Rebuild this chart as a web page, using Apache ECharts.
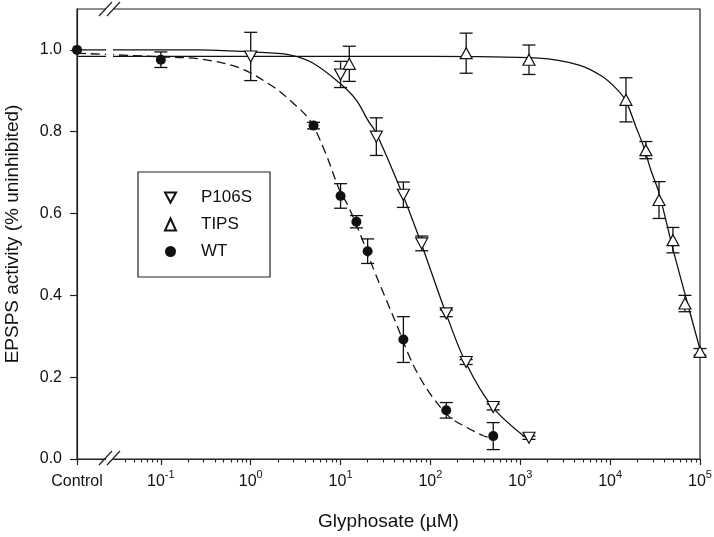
<!DOCTYPE html>
<html>
<head>
<meta charset="utf-8">
<script src="https://cdn.jsdelivr.net/npm/echarts@6/dist/echarts.min.js"></script>
<style>html,body{margin:0;padding:0;background:#fff}#c{width:714px;height:537px}</style>
</head>
<body>
<div id="c"></div>
<script>
// ---- axis data ----
const CONTROL_X = 0.01166; // where the "Control" tick sits on the log axis
const xTickLabels = ['Control', '10^-1', '10^0', '10^1', '10^2', '10^3', '10^4', '10^5'];
const yTickValues = [0, 0.2, 0.4, 0.6, 0.8, 1.0];
const xMinorTicks = [0.04, 0.05, 0.06, 0.07, 0.08, 0.09,
  0.2, 0.3, 0.4, 0.5, 0.6, 0.7, 0.8, 0.9,
  2, 3, 4, 5, 6, 7, 8, 9,
  20, 30, 40, 50, 60, 70, 80, 90,
  200, 300, 400, 500, 600, 700, 800, 900,
  2000, 3000, 4000, 5000, 6000, 7000, 8000, 9000,
  20000, 30000, 40000, 50000, 60000, 70000, 80000, 90000];

// ---- measured data ----
const wtConc = [CONTROL_X, 0.1, 5, 10, 15, 20, 50, 150, 500];
const wtMean = [1.0, 0.976, 0.815, 0.643, 0.580, 0.508, 0.292, 0.119, 0.056];
const wtErr  = [0.0, 0.019, 0.008, 0.030, 0.015, 0.030, 0.056, 0.019, 0.033];

const p106sConc = [1, 10, 25, 50, 80, 150, 250, 500, 1250];
const p106sMean = [0.984, 0.940, 0.788, 0.646, 0.527, 0.356, 0.237, 0.127, 0.052];
const p106sErr  = [0.059, 0.032, 0.046, 0.031, 0.018, 0.008, 0.006, 0.007, 0.004];

const tipsConc = [12.5, 250, 1250, 15000, 25000, 35000, 50000, 68000, 100000];
const tipsMean = [0.966, 0.992, 0.976, 0.878, 0.755, 0.633, 0.535, 0.380, 0.262];
const tipsErr  = [0.043, 0.049, 0.036, 0.054, 0.021, 0.045, 0.031, 0.020, 0.008];

// ---- fitted curves ----
const wtFitConc = [CONTROL_X, 0.1, 0.27, 0.75, 1.75, 2.7, 4.5, 6.6, 9.75, 12, 16.3, 23.9, 32.4, 43, 58.5, 75.5, 105, 163, 250, 378, 500];
const wtFitVal  = [0.992, 0.983, 0.978, 0.956, 0.911, 0.878, 0.829, 0.755, 0.657, 0.621, 0.553, 0.458, 0.388, 0.323, 0.250, 0.201, 0.152, 0.103, 0.078, 0.058, 0.049];

const p106sFitConc = [CONTROL_X, 0.27, 1, 2.7, 4.9, 9.75, 14.9, 20, 24.9, 49.2, 79, 149, 249, 492, 1259];
const p106sFitVal  = [1.0, 1.0, 0.995, 0.988, 0.968, 0.919, 0.878, 0.829, 0.797, 0.646, 0.527, 0.356, 0.234, 0.127, 0.046];

const tipsFitConc = [CONTROL_X, 1, 100, 1600, 4500, 8200, 12000, 14900, 19300, 23900, 28300, 35000, 49200, 69300, 100000];
const tipsFitVal  = [0.984, 0.984, 0.984, 0.980, 0.963, 0.935, 0.903, 0.876, 0.813, 0.760, 0.707, 0.650, 0.519, 0.397, 0.268];

// ---- build ----
const FONT = 'Arial, "Liberation Sans", sans-serif';
const zip = (a, b, c) => a.map((v, i) => c ? [v, b[i], c[i]] : [v, b[i]]);
const DOWN_TRI = 'path://M0,0L12,0L6,11Z';

function errRenderItem(params, api) {
  const x = api.value(0), y = api.value(1), e = api.value(2);
  if (!e) return null;
  const hi = api.coord([x, y + e]);
  const lo = api.coord([x, y - e]);
  const w = 6.5;
  const st = { stroke: '#111', lineWidth: 1.3 };
  return {
    type: 'group',
    children: [
      { type: 'line', shape: { x1: hi[0], y1: hi[1], x2: lo[0], y2: lo[1] }, style: st },
      { type: 'line', shape: { x1: hi[0] - w, y1: hi[1], x2: hi[0] + w, y2: hi[1] }, style: st },
      { type: 'line', shape: { x1: lo[0] - w, y1: lo[1], x2: lo[0] + w, y2: lo[1] }, style: st }
    ]
  };
}

function xLabel(value) {
  const idx = value < 0.05 ? 0 : Math.round(Math.log10(value)) + 2;
  const t = xTickLabels[idx];
  if (!t) return '';
  if (t.indexOf('^') < 0) return '{b|' + t + '}';
  const parts = t.split('^');
  return '{b|' + parts[0] + '}{s|' + parts[1] + '}';
}

const chart = echarts.init(document.getElementById('c'), null, { renderer: 'canvas' });

const lineStyleSolid = { color: '#111', width: 1.3 };

chart.setOption({
  animation: false,
  backgroundColor: '#fff',
  textStyle: { fontFamily: FONT },
  grid: { left: 77, right: 14, top: 9, bottom: 78, containLabel: false, outerBoundsMode: 'none',
    show: true, borderColor: '#222', borderWidth: 1.2, backgroundColor: 'transparent' },
  legend: {
    data: ['P106S', 'TIPS', 'WT'],
    orient: 'vertical',
    left: 138, top: 172,
    padding: [17, 18, 17, 26],
    itemWidth: 11, itemHeight: 12, itemGap: 10,
    borderColor: '#222', borderWidth: 1.2, borderRadius: 0,
    textStyle: { fontSize: 17, fontFamily: FONT, color: '#111', lineHeight: 12, padding: [0, 0, 0, 20] }
  },
  xAxis: [
    {
      type: 'log', logBase: 10, min: CONTROL_X, max: 100000,
      position: 'bottom',
      name: 'Glyphosate (µM)', nameLocation: 'middle', nameGap: 53,
      nameTextStyle: { fontSize: 19, color: '#111', fontFamily: FONT },
      axisLine: { onZero: false, lineStyle: { color: '#222', width: 1.2 } },
      axisTick: { show: true, inside: false, length: 6, lineStyle: { color: '#222', width: 1.2 } },
      minorTick: { show: false },
      splitLine: { show: false },
      axisLabel: {
        margin: 10, color: '#111', formatter: xLabel,
        rich: {
          b: { fontSize: 16, fontFamily: FONT, color: '#111', lineHeight: 21, verticalAlign: 'bottom' },
          s: { fontSize: 11, fontFamily: FONT, color: '#111', lineHeight: 11, verticalAlign: 'top' }
        }
      }
    },
    {
      type: 'value', min: Math.log10(CONTROL_X), max: 5, position: 'bottom',
      axisLine: { show: false, onZero: false },
      axisLabel: { show: false },
      splitLine: { show: false },
      axisTick: { show: true, length: 3.5, customValues: xMinorTicks.map(v => Math.log10(v)), lineStyle: { color: '#222', width: 1.1 } }
    }
  ],
  yAxis: {
    type: 'value', min: 0, max: 1.1,
    name: 'EPSPS activity (% uninhibited)', nameLocation: 'middle', nameGap: 55,
    nameTextStyle: { fontSize: 19, color: '#111', fontFamily: FONT },
    axisLine: { show: true, onZero: false, lineStyle: { color: '#222', width: 1.2 } },
    axisTick: { show: true, length: 7, customValues: yTickValues, lineStyle: { color: '#222', width: 1.2 } },
    splitLine: { show: false },
    axisLabel: { customValues: yTickValues, margin: 15, fontSize: 16, color: '#111', fontFamily: FONT,
      formatter: v => v.toFixed(1) }
  },
  series: [
    // fitted curves
    { name: 'WT fit', type: 'line', xAxisIndex: 0, data: zip(wtFitConc, wtFitVal), smooth: 0.35, showSymbol: false, silent: true,
      lineStyle: { color: '#111', width: 1.3, type: [9, 5] }, z: 1 },
    { name: 'P106S fit', type: 'line', xAxisIndex: 0, data: zip(p106sFitConc, p106sFitVal), smooth: 0.35, showSymbol: false, silent: true,
      lineStyle: lineStyleSolid, z: 1 },
    { name: 'TIPS fit', type: 'line', xAxisIndex: 0, data: zip(tipsFitConc, tipsFitVal), smooth: 0.35, showSymbol: false, silent: true,
      lineStyle: lineStyleSolid, z: 1 },
    // error bars
    { type: 'custom', xAxisIndex: 0, renderItem: errRenderItem, data: zip(wtConc, wtMean, wtErr), encode: { x: 0, y: 1 }, z: 2, silent: true, clip: false },
    { type: 'custom', xAxisIndex: 0, renderItem: errRenderItem, data: zip(p106sConc, p106sMean, p106sErr), encode: { x: 0, y: 1 }, z: 2, silent: true, clip: false },
    { type: 'custom', xAxisIndex: 0, renderItem: errRenderItem, data: zip(tipsConc, tipsMean, tipsErr), encode: { x: 0, y: 1 }, z: 2, silent: true, clip: false },
    // markers
    { name: 'P106S', type: 'scatter', xAxisIndex: 0, data: zip(p106sConc, p106sMean), symbol: DOWN_TRI, symbolSize: [12, 11],
      itemStyle: { color: '#fff', borderColor: '#111', borderWidth: 1.2, opacity: 1 }, z: 3 },
    { name: 'TIPS', type: 'scatter', xAxisIndex: 0, data: zip(tipsConc, tipsMean), symbol: 'triangle', symbolSize: [12, 11],
      itemStyle: { color: '#fff', borderColor: '#111', borderWidth: 1.2, opacity: 1 }, z: 3 },
    { name: 'WT', type: 'scatter', xAxisIndex: 0, data: zip(wtConc, wtMean), symbol: 'circle', symbolSize: 10,
      itemStyle: { color: '#111', borderColor: '#111', borderWidth: 0, opacity: 1 }, z: 4 }
  ],
  graphic: [
    { type: 'rect', z: 100, shape: { x: 106, y: 0, width: 7, height: 466 }, style: { fill: '#fff' } },
    { type: 'line', z: 101, shape: { x1: 99, y1: 16, x2: 112, y2: 2 }, style: { stroke: '#222', lineWidth: 1.2 } },
    { type: 'line', z: 101, shape: { x1: 107, y1: 16, x2: 120, y2: 2 }, style: { stroke: '#222', lineWidth: 1.2 } },
    { type: 'line', z: 101, shape: { x1: 99, y1: 465, x2: 112, y2: 451 }, style: { stroke: '#222', lineWidth: 1.2 } },
    { type: 'line', z: 101, shape: { x1: 107, y1: 465, x2: 120, y2: 451 }, style: { stroke: '#222', lineWidth: 1.2 } }
  ]
});
</script>
</body>
</html>
